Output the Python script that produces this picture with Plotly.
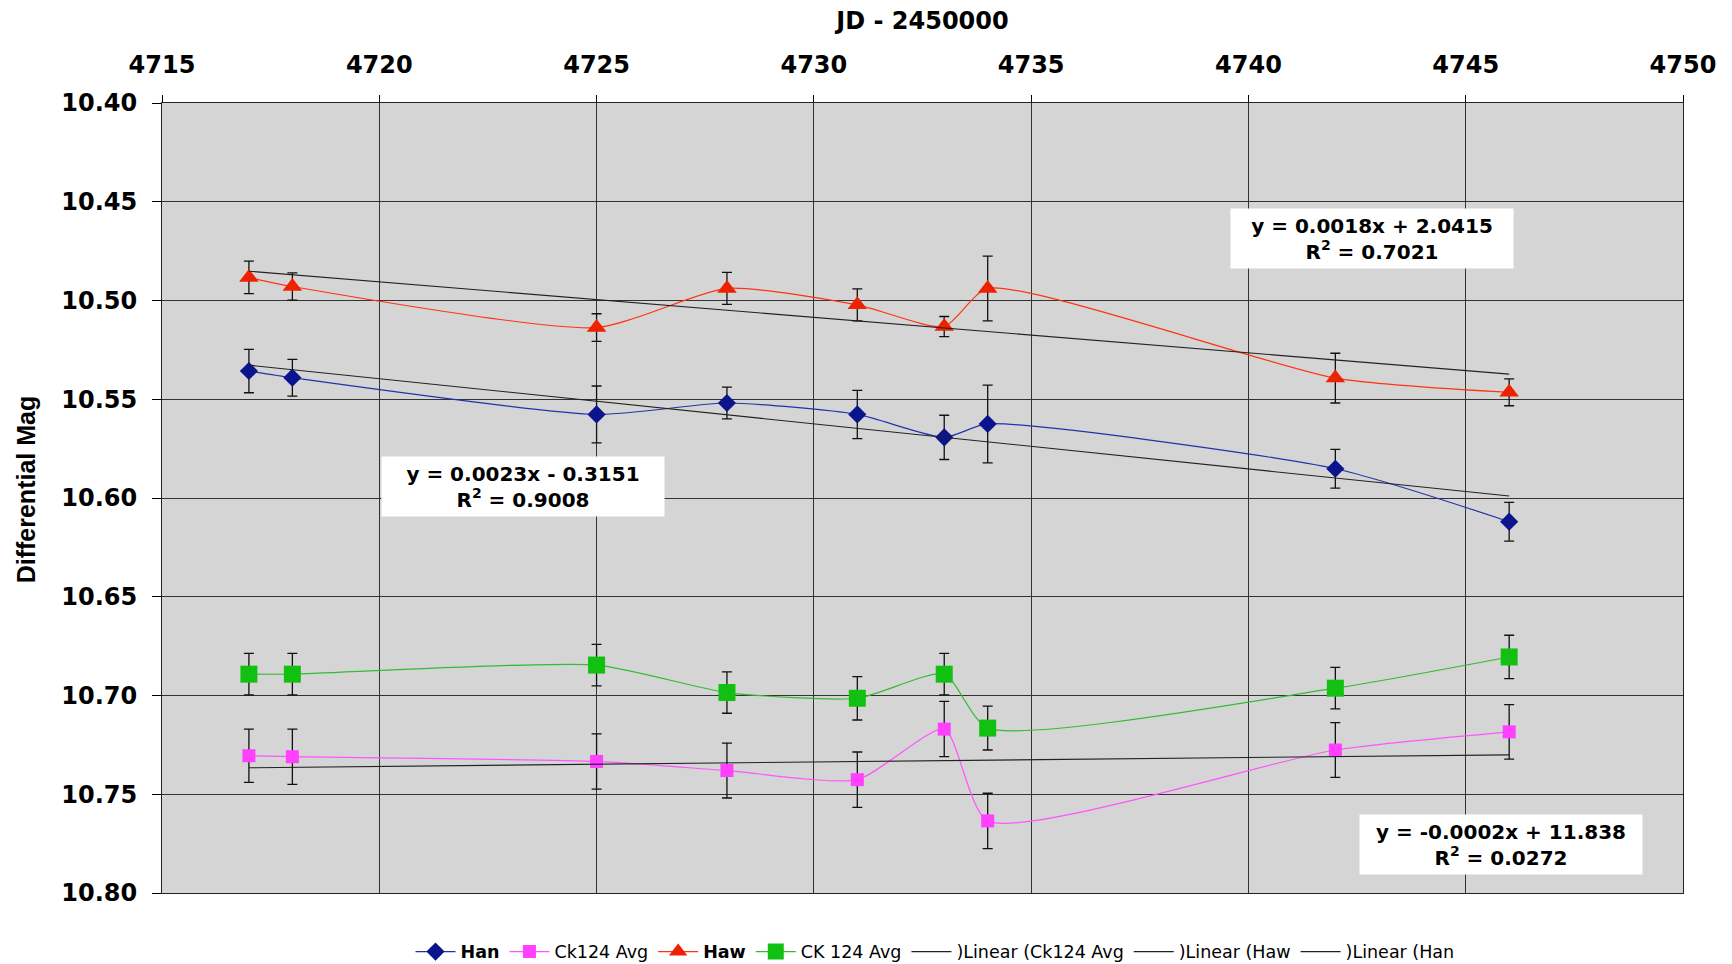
import numpy as np
import plotly.graph_objects as go

# Julian dates (JD - 2450000) of each observing night
jd = [4717, 4718, 4725, 4728, 4731, 4733, 4734, 4742, 4746]

# Differential magnitudes and their uncertainties
han = [10.5357, 10.5391, 10.5577, 10.5519, 10.5577, 10.5693, 10.5625, 10.5852, 10.6120]
han_err = [0.0110, 0.0093, 0.0144, 0.0080, 0.0122, 0.0112, 0.0197, 0.0098, 0.0098]

ck124 = [10.7305, 10.7310, 10.7334, 10.7380, 10.7426, 10.7170, 10.7635, 10.7276, 10.7184]
ck124_err = [0.0135, 0.0140, 0.0140, 0.0139, 0.0140, 0.0140, 0.0140, 0.0139, 0.0138]

haw = [10.4883, 10.4929, 10.5137, 10.4939, 10.5022, 10.5132, 10.4939, 10.5393, 10.5465]
haw_err = [0.0082, 0.0069, 0.0070, 0.0081, 0.0081, 0.0051, 0.0164, 0.0126, 0.0068]

ck_avg = [10.6892, 10.6892, 10.6846, 10.6985, 10.7014, 10.6892, 10.7165, 10.6963, 10.6805]
ck_avg_err = [0.0105, 0.0105, 0.0105, 0.0105, 0.0110, 0.0105, 0.0111, 0.0105, 0.0110]

# Trend-line equation labels
eq_han = ["y = 0.0023x - 0.3151", "0.9008"]
eq_haw = ["y = 0.0018x + 2.0415", "0.7021"]
eq_ck = ["y = -0.0002x + 11.838", "0.0272"]

x_ticks = [4715, 4720, 4725, 4730, 4735, 4740, 4745, 4750]
y_ticks = [10.40, 10.45, 10.50, 10.55, 10.60, 10.65, 10.70, 10.75, 10.80]

BOLD_FONT = "DejaVu Sans"
fig = go.Figure()


def add_series(name, y, err, color, line_color, symbol, size):
    fig.add_trace(go.Scatter(
        x=jd, y=y, name=name, mode="lines+markers",
        line=dict(color=line_color, width=1.2, shape="spline", smoothing=0.6),
        marker=dict(symbol=symbol, size=size, color=color, line=dict(width=0)),
        error_y=dict(type="data", array=err, visible=True, color="#111111",
                     thickness=1.3, width=5),
    ))


add_series("<b>Han</b>", han, han_err, "#0A148C", "#2233AA", "diamond", 14)
add_series("Ck124 Avg", ck124, ck124_err, "#FF40FF", "#FF55FF", "square", 13)
add_series("<b>Haw</b>", haw, haw_err, "#EE2200", "#FF3311", "triangle-up", 17)
add_series("CK 124 Avg", ck_avg, ck_avg_err, "#12C012", "#33BB33", "square", 17)


# Least-squares linear trends
def add_trend(name, y):
    slope, icept = np.polyfit(jd, y, 1)
    xs = np.array([jd[0], jd[-1]], dtype=float)
    fig.add_trace(go.Scatter(
        x=xs, y=slope * xs + icept, name=name, mode="lines",
        line=dict(color="#222222", width=1.1),
    ))


add_trend(")Linear (Ck124 Avg", ck124)
add_trend(")Linear (Haw", haw)
add_trend(")Linear (Han", han)


def eq_box(eq, x, y):
    fig.add_annotation(
        x=x, y=y, xref="x", yref="y", xanchor="center", yanchor="middle",
        text=f"<b>{eq[0]}</b><br><b>R<sup>2</sup> = {eq[1]}</b>",
        showarrow=False, align="center",
        font=dict(family=BOLD_FONT, size=20, color="black"),
        bgcolor="white", width=280, height=57,
    )


eq_box(eq_han, 4723.3, 10.594)
eq_box(eq_haw, 4742.84, 10.4684)
eq_box(eq_ck, 4745.81, 10.7753)

# Vertical axis title
fig.add_annotation(
    x=-0.0892, y=0.5114, xref="paper", yref="paper",
    xanchor="center", yanchor="middle",
    text="<b>Differential Mag</b>", textangle=-90, showarrow=False,
    font=dict(family="Liberation Sans", size=25, color="black"),
)

tick_font = dict(family=BOLD_FONT, size=24, color="black", weight="bold")

fig.update_layout(
    width=1732, height=964,
    margin=dict(l=162, r=49, t=103, b=71),
    paper_bgcolor="white", plot_bgcolor="#D5D5D5",
    title=dict(text="<b>JD - 2450000</b>", x=0.5, xref="paper", xanchor="center",
               y=1 - 21 / 964, yref="container", yanchor="middle",
               font=dict(family=BOLD_FONT, size=24, color="black")),
    xaxis=dict(side="top", range=[4715, 4750], tickvals=x_ticks,
               ticks="outside", ticklen=7, tickcolor="black", tickwidth=1,
               showgrid=True, gridcolor="#333333", gridwidth=1,
               showline=True, linecolor="#222222", linewidth=1, mirror=True,
               zeroline=False, ticklabelstandoff=12, tickfont=tick_font),
    yaxis=dict(range=[10.80, 10.40], tickvals=y_ticks, tickformat=".2f",
               ticks="outside", ticklen=9, tickcolor="black", tickwidth=1,
               showgrid=True, gridcolor="#333333", gridwidth=1,
               showline=True, linecolor="#222222", linewidth=1, mirror=True,
               zeroline=False, ticklabelstandoff=10, tickfont=tick_font),
    legend=dict(orientation="h", xref="container", yref="container",
                x=935 / 1732, y=1 - 951.7 / 964, xanchor="center", yanchor="middle",
                font=dict(family="DejaVu Sans", size=17.5, color="black"),
                bgcolor="rgba(0,0,0,0)", itemwidth=40),
    showlegend=True,
)

fig.write_html("out.html")
